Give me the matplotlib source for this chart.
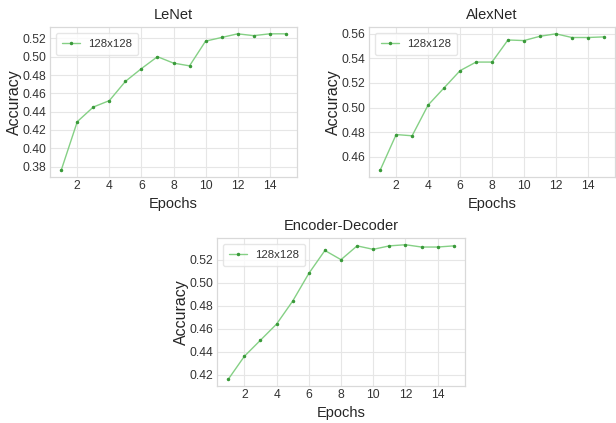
import numpy as np
import matplotlib
matplotlib.use('Agg')
import matplotlib.pyplot as plt

epochs = list(range(1, 16))
lenet_acc = [0.376, 0.429, 0.445, 0.452, 0.473, 0.487, 0.500, 0.493, 0.490,
             0.517, 0.521, 0.525, 0.523, 0.525, 0.525]
alexnet_acc = [0.449, 0.478, 0.477, 0.502, 0.516, 0.530, 0.537, 0.537, 0.555,
               0.5545, 0.558, 0.560, 0.557, 0.557, 0.5575]
encdec_acc = [0.416, 0.436, 0.450, 0.464, 0.484, 0.508, 0.528, 0.520, 0.532,
              0.529, 0.532, 0.533, 0.531, 0.531, 0.532]
series_label = '128x128'

plt.style.use('seaborn-v0_8-whitegrid')

W, H = 616, 423
fig = plt.figure(figsize=(W / 100, H / 100), dpi=100)


def make_ax(left, top, right, bottom):
    return fig.add_axes([left / W, 1 - bottom / H, (right - left) / W, (bottom - top) / H])


panels = [
    ('LeNet', lenet_acc, (50, 27, 297, 177), [0.38, 0.40, 0.42, 0.44, 0.46, 0.48, 0.50, 0.52]),
    ('AlexNet', alexnet_acc, (369, 27, 615, 177), [0.46, 0.48, 0.50, 0.52, 0.54, 0.56]),
    ('Encoder-Decoder', encdec_acc, (217, 238, 465, 386), [0.42, 0.44, 0.46, 0.48, 0.50, 0.52]),
]

for title, acc, box, yt in panels:
    ax = make_ax(*box)
    ax.plot(epochs, acc, color='#85d085', lw=1.0, marker='.', markersize=3,
            markerfacecolor='#3a9a3a', markeredgecolor='#3a9a3a', label=series_label)
    ax.set_xticks([2, 4, 6, 8, 10, 12, 14])
    ax.set_yticks(yt)
    ax.set_yticklabels(['%.2f' % v for v in yt])
    ax.set_xlim(0.3, 15.7)
    ax.tick_params(labelsize=8.7, colors='#333333', length=0, pad=2.5)
    for lab in ax.get_xticklabels() + ax.get_yticklabels():
        lab.set_family('Liberation Sans')
    ax.grid(True, color='#e6e6e6', lw=0.8)
    for s in ax.spines.values():
        s.set_visible(True)
        s.set_color('#d9d9d9')
        s.set_linewidth(0.9)
    ax.set_title(title, fontsize=10.5, family='Liberation Sans', pad=6)
    ax.set_xlabel('Epochs', fontsize=10.5, family='Liberation Sans', labelpad=3)
    ax.set_ylabel('Accuracy', fontsize=11.5, family='Liberation Sans', labelpad=0.5)
    leg = ax.legend(loc='upper left', fontsize=8.2, frameon=True, handlelength=1.6,
                    handletextpad=0.7, borderpad=0.55)
    leg.get_frame().set_edgecolor('#e0e0e0')
    leg.get_frame().set_facecolor('white')
    for t in leg.get_texts():
        t.set_color('#333333')

fig.savefig('out.png', dpi=100, facecolor='white')
